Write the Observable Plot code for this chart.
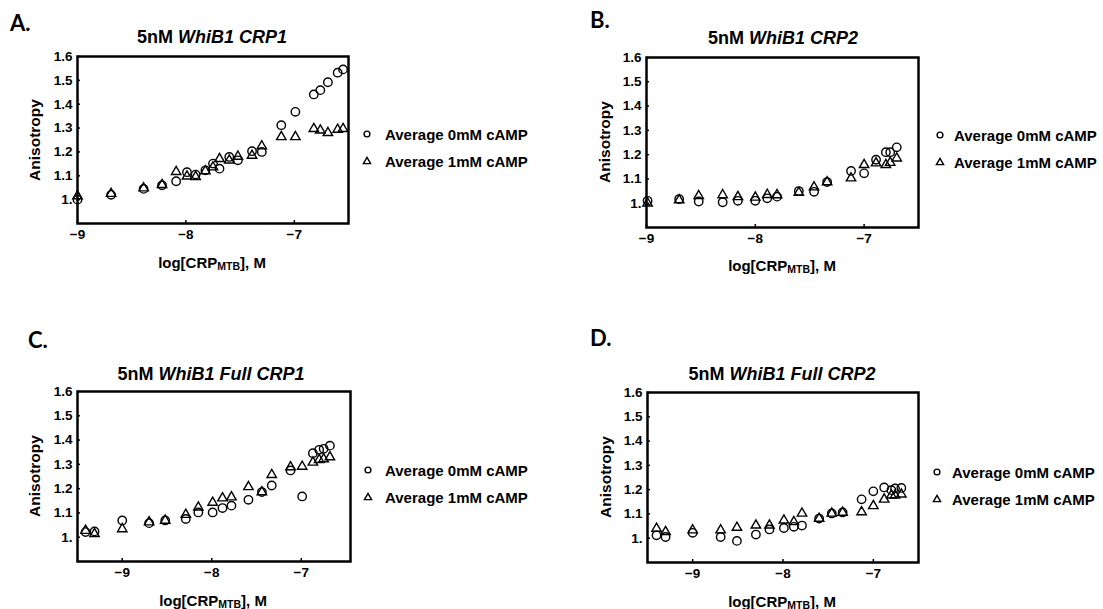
<!DOCTYPE html>
<html><head><meta charset="utf-8">
<script src="https://cdn.jsdelivr.net/npm/d3@7"></script>
<script src="https://cdn.jsdelivr.net/npm/@observablehq/plot@0.6"></script>
<style>
body{margin:0;background:#fff;}
#root{position:relative;width:1103px;height:609px;overflow:hidden;font-family:"Liberation Sans",Arial,sans-serif;color:#000;background:#fff;}
.abs{position:absolute;white-space:nowrap;line-height:1;}
.letter{font-family:Lato,"Open Sans",sans-serif;font-weight:bold;font-size:22px;transform:translateY(-50%);}
.title{font-weight:bold;font-size:18px;transform:translate(-50%,-50%);}
.ylab{font-weight:bold;font-size:15.5px;transform:translate(-50%,-50%) rotate(-90deg);}
.xlab{font-weight:bold;font-size:15px;transform:translate(-50%,-50%);}
.xlab .sub{font-size:10.5px;position:relative;top:2px;}
.leg{font-weight:bold;font-size:15px;transform:translateY(-50%);}
svg.sym{position:absolute;overflow:visible;}
</style></head><body><div id="root"></div>
<script>
// ---- data ----
const xTicks = [-9, -8, -7];
const yTicks = [1.0, 1.1, 1.2, 1.3, 1.4, 1.5, 1.6];
const seriesNames = ["Average 0mM cAMP", "Average 1mM cAMP"];

// Panel A: 5nM WhiB1 CRP1
const xA = [-9.00, -8.69, -8.39, -8.22, -8.09, -7.99, -7.91, -7.82, -7.75, -7.69, -7.60, -7.52, -7.39, -7.30, -7.12, -6.99, -6.82, -6.76, -6.69, -6.60, -6.55];
const a0A = [1.00, 1.02, 1.045, 1.06, 1.077, 1.115, 1.105, 1.123, 1.151, 1.13, 1.179, 1.165, 1.203, 1.20, 1.312, 1.368, 1.441, 1.459, 1.492, 1.532, 1.546];
const a1A = [1.015, 1.025, 1.048, 1.062, 1.117, 1.098, 1.096, 1.12, 1.136, 1.171, 1.165, 1.181, 1.185, 1.224, 1.263, 1.263, 1.297, 1.291, 1.28, 1.294, 1.297];

// Panel B: 5nM WhiB1 CRP2
const xB = [-8.99, -8.70, -8.52, -8.30, -8.16, -8.00, -7.89, -7.80, -7.60, -7.46, -7.34, -7.12, -7.00, -6.89, -6.80, -6.76, -6.70];
const a0B = [1.01, 1.017, 1.007, 1.004, 1.01, 1.01, 1.02, 1.027, 1.05, 1.047, 1.087, 1.133, 1.123, 1.179, 1.21, 1.21, 1.23];
const a1B = [1.0, 1.013, 1.03, 1.034, 1.026, 1.024, 1.035, 1.034, 1.044, 1.066, 1.087, 1.103, 1.158, 1.165, 1.158, 1.167, 1.185];

// Panel C: 5nM WhiB1 Full CRP1
const xC = [-9.41, -9.31, -9.00, -8.70, -8.52, -8.29, -8.15, -7.99, -7.88, -7.78, -7.59, -7.44, -7.33, -7.12, -6.99, -6.87, -6.80, -6.75, -6.68];
const a0C = [1.021, 1.024, 1.069, 1.058, 1.069, 1.075, 1.102, 1.102, 1.12, 1.13, 1.154, 1.186, 1.213, 1.275, 1.168, 1.346, 1.36, 1.364, 1.377];
const a1C = [1.027, 1.014, 1.034, 1.062, 1.069, 1.093, 1.123, 1.143, 1.161, 1.165, 1.207, 1.186, 1.257, 1.289, 1.291, 1.308, 1.319, 1.322, 1.33];

// Panel D: 5nM WhiB1 Full CRP2
const xD = [-9.40, -9.30, -9.00, -8.69, -8.51, -8.30, -8.15, -7.99, -7.88, -7.79, -7.60, -7.46, -7.34, -7.13, -7.00, -6.88, -6.80, -6.76, -6.69];
const a0D = [1.012, 1.005, 1.022, 1.005, 0.989, 1.015, 1.036, 1.042, 1.047, 1.052, 1.081, 1.102, 1.106, 1.16, 1.193, 1.209, 1.198, 1.205, 1.207];
const a1D = [1.04, 1.026, 1.033, 1.033, 1.044, 1.053, 1.053, 1.074, 1.067, 1.102, 1.081, 1.102, 1.106, 1.108, 1.133, 1.16, 1.177, 1.177, 1.181];

// ---- layout ----
const panels = [
  {letter: "A.", pre: "5nM ", ital: "WhiB1 CRP1", x: xA, a0: a0A, a1: a1A, xDomain: [-9, -6.5],
   frame: {l: 77, t: 56, r: 348, b: 223}, letterPos: [10, 22.5], titlePos: [212, 37], ylabPos: [35, 139.5], xlabPos: [212, 262], leg: [367, 134, 385]},
  {letter: "B.", pre: "5nM ", ital: "WhiB1 CRP2", x: xB, a0: a0B, a1: a1B, xDomain: [-9, -6.5],
   frame: {l: 646, t: 57, r: 918, b: 227}, letterPos: [590, 20], titlePos: [783, 38], ylabPos: [605, 142], xlabPos: [782, 265], leg: [940, 135, 954]},
  {letter: "C.", pre: "5nM ", ital: "WhiB1 Full CRP1", x: xC, a0: a0C, a1: a1C, xDomain: [-9.5, -6.45],
   frame: {l: 77, t: 391, r: 350, b: 561}, letterPos: [28, 340], titlePos: [211, 373.5], ylabPos: [35, 476], xlabPos: [213, 600], leg: [368, 470, 385]},
  {letter: "D.", pre: "5nM ", ital: "WhiB1 Full CRP2", x: xD, a0: a0D, a1: a1D, xDomain: [-9.5, -6.5],
   frame: {l: 647, t: 392, r: 918, b: 562}, letterPos: [590, 337.5], titlePos: [782, 374], ylabPos: [606, 477], xlabPos: [782, 601], leg: [937, 472, 952]}
];

const root = document.getElementById("root");
const mL = 60, mT = 6, mR = 6, mB = 32;
const yFmt = d => (Math.abs(d - 1) < 1e-9 ? "1." : d.toFixed(1));
const xFmt = d3.format("d");
const fontFam = "'Liberation Sans', Arial, sans-serif";

function addDiv(cls, x, y, html) {
  const el = document.createElement("div");
  el.className = "abs " + cls;
  el.style.left = x + "px";
  el.style.top = y + "px";
  el.innerHTML = html;
  root.appendChild(el);
  return el;
}

for (const p of panels) {
  const d0 = p.x.map((x, i) => ({x, y: p.a0[i], s: seriesNames[0]}));
  const d1 = p.x.map((x, i) => ({x, y: p.a1[i], s: seriesNames[1]}));
  const w = p.frame.r - p.frame.l, h = p.frame.b - p.frame.t;
  const chart = Plot.plot({
    width: w + mL + mR,
    height: h + mT + mB,
    marginLeft: mL, marginTop: mT, marginRight: mR, marginBottom: mB,
    style: {fontFamily: fontFam, fontSize: "13px", fontWeight: "bold", background: "transparent", color: "black", overflow: "visible"},
    x: {domain: p.xDomain},
    y: {domain: [0.9, 1.6]},
    marks: [
      Plot.axisX({ticks: xTicks, tickFormat: xFmt, tickSize: -3, tickPadding: 9, label: null, strokeWidth: 1.5, fontSize: 13.5, fontWeight: "bold", fill: "black"}),
      Plot.axisY({ticks: yTicks, tickFormat: yFmt, tickSize: -3, tickPadding: 8, label: null, strokeWidth: 1.5, fontSize: 13.5, fontWeight: "bold", fill: "black"}),
      Plot.dot(d0, {x: "x", y: "y", r: 4.2, symbol: "circle", stroke: "black", strokeWidth: 1.4, fill: "none"}),
      Plot.dot(d1, {x: "x", y: "y", r: 3.5, symbol: "triangle", stroke: "black", strokeWidth: 1.4, fill: "none"}),
      Plot.frame({stroke: "black", strokeWidth: 2.5})
    ]
  });
  chart.style.position = "absolute";
  chart.style.left = (p.frame.l - mL) + "px";
  chart.style.top = (p.frame.t - mT) + "px";
  root.appendChild(chart);

  addDiv("letter", p.letterPos[0], p.letterPos[1], p.letter);
  addDiv("title", p.titlePos[0], p.titlePos[1], `${p.pre}<i>${p.ital}</i>`);
  addDiv("ylab", p.ylabPos[0], p.ylabPos[1], "Anisotropy");
  addDiv("xlab", p.xlabPos[0], p.xlabPos[1], `log[CRP<span class="sub">MTB</span>], M`);

  // legend
  const [sx, sy, tx] = p.leg;
  const rows = [{sym: "circle", y: sy, label: seriesNames[0]}, {sym: "triangle", y: sy + 26.5, label: seriesNames[1]}];
  for (const r of rows) {
    const svg = document.createElementNS("http://www.w3.org/2000/svg", "svg");
    svg.setAttribute("class", "sym");
    svg.setAttribute("width", 12); svg.setAttribute("height", 12);
    svg.style.left = (sx - 6) + "px"; svg.style.top = (r.y - 6) + "px";
    const shape = r.sym === "circle"
      ? `<circle cx="6" cy="6" r="2.9" fill="none" stroke="black" stroke-width="1.4"/>`
      : `<path d="M6,2.4L9.6,8.6L2.4,8.6Z" fill="none" stroke="black" stroke-width="1.4" stroke-linejoin="miter"/>`;
    svg.innerHTML = shape;
    root.appendChild(svg);
    addDiv("leg", tx, r.y, r.label);
  }
}
</script></body></html>
